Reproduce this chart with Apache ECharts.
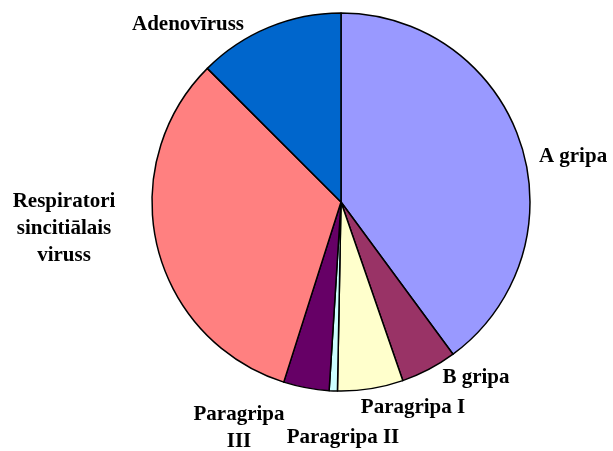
<!DOCTYPE html>
<html>
<head>
<meta charset="utf-8">
<script src="https://cdn.jsdelivr.net/npm/echarts@6/dist/echarts.min.js"></script>
<style>html,body{margin:0;padding:0;background:#fff;}#c{width:613px;height:451px;}</style>
</head>
<body>
<div id="c"></div>
<script>
var categories = ['A gripa', 'B gripa', 'Paragripa I', 'Paragripa II', 'Paragripa\nIII', 'Respiratori\nsincitiālais\nviruss', 'Adenovīruss'];
var values = [39.9, 4.8, 5.6, 0.7, 3.9, 32.6, 12.5];
var colors = ['#9999FF', '#993366', '#FFFFCC', '#CCFFFF', '#660066', '#FF8080', '#0066CC'];
var labelPos = [[573, 157], [476, 378], [413, 408], [343, 438], [239, 428], [64, 229], [188, 25]];

var chart = echarts.init(document.getElementById('c'));
chart.setOption({
  animation: false,
  backgroundColor: '#fff',
  series: [{
    type: 'pie',
    center: [341, 202],
    radius: [0, 189],
    startAngle: 90,
    clockwise: true,
    avoidLabelOverlap: false,
    data: categories.map(function (n, i) { return { name: n, value: values[i], itemStyle: { color: colors[i] } }; }),
    itemStyle: { borderColor: '#000', borderWidth: 1.5 },
    label: {
      show: true,
      position: 'outside',
      formatter: '{b}',
      fontFamily: 'Liberation Serif',
      fontWeight: 'bold',
      fontSize: 21,
      lineHeight: 27,
      color: '#000',
      align: 'center'
    },
    labelLine: { show: false },
    labelLayout: function (p) {
      var pos = labelPos[p.dataIndex];
      return { x: pos[0], y: pos[1], align: 'center', verticalAlign: 'middle' };
    },
    emphasis: { disabled: true }
  }]
});
</script>
</body>
</html>
